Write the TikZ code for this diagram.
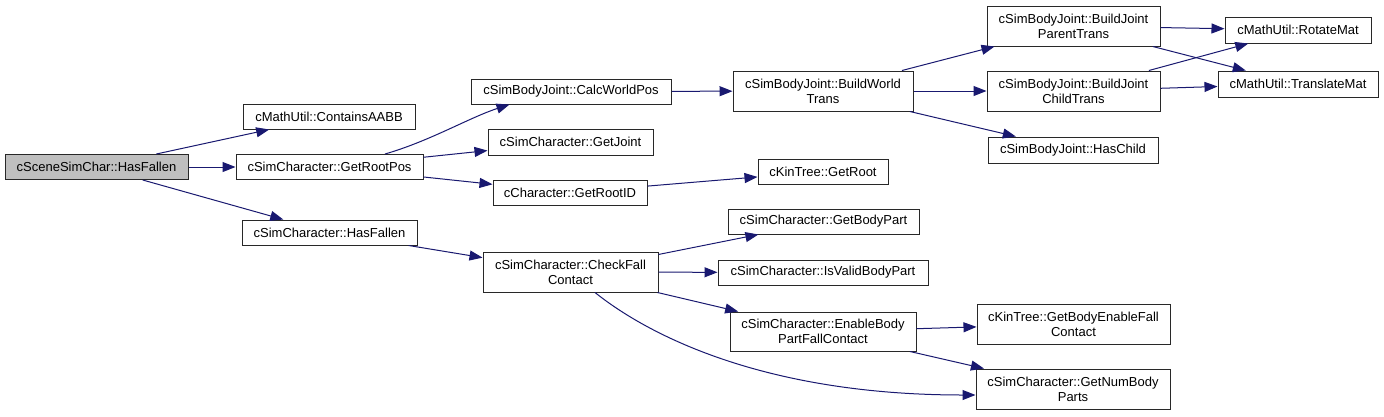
\documentclass[tikz,border=0pt]{standalone}
\usepackage{fontspec}
\setmainfont{Liberation Sans}
\usepackage{tikz}
\usetikzlibrary{arrows.meta}
\definecolor{edgeblue}{RGB}{25,25,112}
\definecolor{curgrey}{RGB}{191,191,191}
\definecolor{boxline}{RGB}{40,40,40}
\tikzset{
  fn/.style  ={draw=boxline,fill=white,line width=1pt,align=center,font=\fontsize{13}{15}\selectfont,inner sep=0pt,minimum height=25pt},
  fnii/.style={fn,minimum height=40pt},
  cur/.style ={fill=curgrey},
  call/.style={-{Triangle[length=13pt,width=10pt]},draw=edgeblue,line width=1pt},
}
\begin{document}
\begin{tikzpicture}[x=1pt,y=-1pt]
\path[use as bounding box,fill=white] (0,0) rectangle (1384,416);

\node[fn,cur,minimum width=183pt] (root) at (96.5,167) {cSceneSimChar::HasFallen};

\node[fn,minimum width=172pt] (aabb) at (329,116.5) {cMathUtil::ContainsAABB};
\node[fn,minimum width=187pt] (rootpos) at (329.5,167) {cSimCharacter::GetRootPos};
\node[fn,minimum width=175pt] (hasfall) at (329.5,232.5) {cSimCharacter::HasFallen};

\node[fn,minimum width=200pt] (calcpos) at (571,91.5) {cSimBodyJoint::CalcWorldPos};
\node[fn,minimum width=165pt,minimum height=26pt] (getjoint) at (570.5,142) {cSimCharacter::GetJoint};
\node[fn,minimum width=154pt] (rootid) at (570,192.5) {cCharacter::GetRootID};
\node[fnii,minimum width=175pt] (checkfall) at (570.5,272) {cSimCharacter::CheckFall\\Contact};

\node[fnii,minimum width=180pt] (worldtr) at (823,91) {cSimBodyJoint::BuildWorld\\Trans};
\node[fn,minimum width=130pt] (getroot) at (823,171.5) {cKinTree::GetRoot};
\node[fn,minimum width=191pt] (bodypart) at (823.5,221.5) {cSimCharacter::GetBodyPart};
\node[fn,minimum width=210pt] (validpart) at (823,272.5) {cSimCharacter::IsValidBodyPart};
\node[fnii,minimum width=186pt,minimum height=39pt] (enablebody) at (823,331.5) {cSimCharacter::EnableBody\\PartFallContact};

\node[fnii,minimum width=173pt] (parenttr) at (1073.5,26) {cSimBodyJoint::BuildJoint\\ParentTrans};
\node[fnii,minimum width=173pt] (childtr) at (1073.5,91) {cSimBodyJoint::BuildJoint\\ChildTrans};
\node[fn,minimum width=170pt,minimum height=26pt] (haschild) at (1073,150) {cSimBodyJoint::HasChild};
\node[fnii,minimum width=193pt] (enablefall) at (1073.5,324) {cKinTree::GetBodyEnableFall\\Contact};
\node[fnii,minimum width=194pt] (numparts) at (1073,389) {cSimCharacter::GetNumBody\\Parts};

\node[fn,minimum width=146pt,minimum height=26pt] (rotmat) at (1298,30) {cMathUtil::RotateMat};
\node[fn,minimum width=160pt,minimum height=26pt] (transmat) at (1298,84) {cMathUtil::TranslateMat};

\draw[call] (root) -- (aabb);
\draw[call] (root) -- (rootpos);
\draw[call] (root) -- (hasfall);
\draw[call] ([xshift=55.5pt]rootpos.north) .. controls +(45,-13) and +(-40,13) .. ([xshift=39pt]calcpos.south west);
\draw[call] (rootpos) -- (getjoint);
\draw[call] (rootpos) -- (rootid);
\draw[call] (hasfall) -- (checkfall);
\draw[call] (calcpos) -- (worldtr);
\draw[call] (rootid) -- (getroot);
\draw[call] (checkfall) -- (bodypart);
\draw[call] (checkfall) -- (validpart);
\draw[call] (checkfall) -- (enablebody);
\draw[call] ([xshift=24.5pt]checkfall.south) .. controls +(50,40) and +(-216,0) .. ([yshift=-6pt]numparts.west);
\draw[call] (worldtr) -- (parenttr);
\draw[call] (worldtr) -- (childtr);
\draw[call] (worldtr) -- (haschild);
\draw[call] (enablebody) -- (enablefall);
\draw[call] (enablebody) -- (numparts);
\draw[call] (parenttr) -- (rotmat);
\draw[call] (parenttr) -- (transmat);
\draw[call] (childtr) -- (rotmat);
\draw[call] (childtr) -- (transmat);
\end{tikzpicture}
\end{document}
